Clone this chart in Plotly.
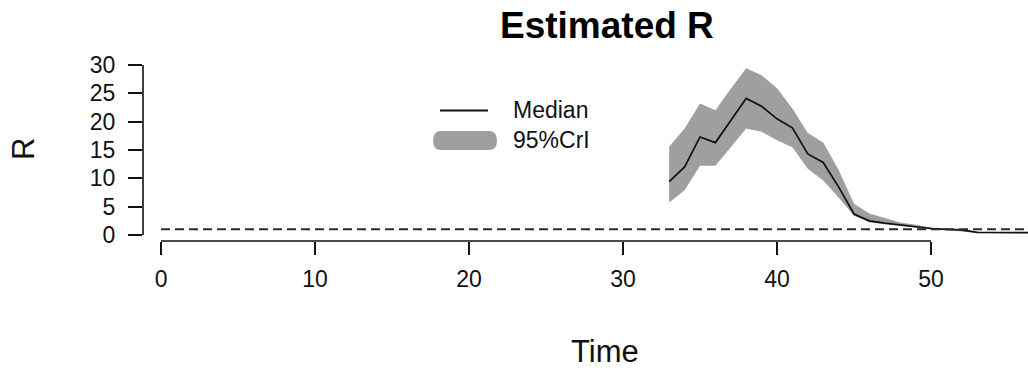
import plotly.graph_objects as go

# ---- data ----
time = list(range(33, 59))
median = [9.4, 12.0, 17.3, 16.3, 20.2, 24.1, 22.7, 20.5, 18.9, 14.3, 12.8, 8.5, 3.7, 2.5,
          2.1, 1.8, 1.5, 1.15, 1.0, 0.9, 0.45, 0.42, 0.4, 0.4, 0.4, 0.4]
upper = [15.6, 18.8, 23.2, 22.0, 25.8, 29.4, 28.2, 25.9, 22.3, 18.0, 16.3, 11.5, 5.5, 3.8,
         3.0, 2.2, 1.8, 1.3, 1.05, 0.8, 0.55, 0.52, 0.5, 0.5, 0.5, 0.5]
lower = [5.75, 7.9, 12.2, 12.2, 15.5, 18.8, 18.2, 16.7, 15.5, 11.7, 9.6, 6.6, 3.4, 2.2,
         1.9, 1.6, 1.3, 1.0, 0.85, 0.6, 0.35, 0.33, 0.3, 0.3, 0.3, 0.3]
x_ticks = [0, 10, 20, 30, 40, 50]
y_ticks = [0, 5, 10, 15, 20, 25, 30]
ref_level = 1
title_text = "Estimated R"
x_title = "Time"
y_title = "R"
legend_labels = ["Median", "95%CrI"]

# ---- layout geometry (pixels) ----
FW, FH = 1028, 371
L, T = 143, 58
R_, B = 0, 130
PW, PH = FW - L - R_, FH - T - B
x_range = [-1.17, 56.3]
y_range = [-1.06, 31.23]

BAND = "#9f9f9f"
INK = "#111111"
FONT = "Liberation Sans, Arial, sans-serif"


def px(xp):
    return (xp - L) / PW


def py(yp):
    return 1 - (yp - T) / PH


fig = go.Figure()
fig.add_trace(go.Scatter(x=time, y=upper, mode="lines", line=dict(width=0, color=BAND),
                         showlegend=False, hoverinfo="skip"))
fig.add_trace(go.Scatter(x=time, y=lower, mode="lines", line=dict(width=0, color=BAND),
                         fill="tonexty", fillcolor=BAND, showlegend=False, hoverinfo="skip"))
fig.add_trace(go.Scatter(x=time, y=median, mode="lines", line=dict(width=1.7, color="#111111"),
                         showlegend=False))

shapes = []
# reference line at R = 1
shapes.append(dict(type="line", xref="x", yref="y", x0=x_ticks[0], x1=x_range[1],
                   y0=ref_level, y1=ref_level, line=dict(color="#2a2a2a", width=2, dash="9px,5px")))
# detached axis lines (R style)
shapes.append(dict(type="line", xref="paper", yref="y", x0=0, x1=0,
                   y0=min(y_ticks), y1=max(y_ticks), line=dict(color=INK, width=1.6)))
shapes.append(dict(type="line", xref="x", yref="paper", x0=min(x_ticks), x1=max(x_ticks),
                   y0=0, y1=0, line=dict(color=INK, width=1.6)))
# legend symbols
shapes.append(dict(type="line", xref="paper", yref="paper", x0=px(440), x1=px(488),
                   y0=py(110.5), y1=py(110.5), line=dict(color=INK, width=2)))
x0, x1, y0, y1, r = 433, 497, 131, 150, 8
path = (f"M {px(x0 + r)},{py(y0)} L {px(x1 - r)},{py(y0)} "
        f"Q {px(x1)},{py(y0)} {px(x1)},{py((y0 + y1) / 2)} "
        f"Q {px(x1)},{py(y1)} {px(x1 - r)},{py(y1)} "
        f"L {px(x0 + r)},{py(y1)} "
        f"Q {px(x0)},{py(y1)} {px(x0)},{py((y0 + y1) / 2)} "
        f"Q {px(x0)},{py(y0)} {px(x0 + r)},{py(y0)} Z")
shapes.append(dict(type="path", xref="paper", yref="paper", path=path,
                   fillcolor=BAND, line=dict(width=0)))

annotations = [
    dict(text=f"<b>{title_text}</b>", x=px(607), y=py(25), xref="paper", yref="paper",
         xanchor="center", yanchor="middle", showarrow=False,
         font=dict(family=FONT, size=37, color="#000000")),
    dict(text=x_title, x=px(605), y=py(351), xref="paper", yref="paper",
         xanchor="center", yanchor="middle", showarrow=False,
         font=dict(family=FONT, size=31, color=INK)),
    dict(text=y_title, x=px(23.5), y=py(149.5), xref="paper", yref="paper",
         xanchor="center", yanchor="middle", showarrow=False, textangle=-90,
         font=dict(family=FONT, size=31, color=INK)),
    dict(text=legend_labels[0], x=px(511), y=py(110), xref="paper", yref="paper",
         xanchor="left", yanchor="middle", showarrow=False,
         font=dict(family=FONT, size=23, color=INK)),
    dict(text=legend_labels[1], x=px(511), y=py(140), xref="paper", yref="paper",
         xanchor="left", yanchor="middle", showarrow=False,
         font=dict(family=FONT, size=23, color=INK)),
]

fig.update_layout(
    width=FW, height=FH,
    margin=dict(l=L, r=R_, t=T, b=B, pad=0),
    paper_bgcolor="white", plot_bgcolor="white",
    showlegend=False,
    shapes=shapes, annotations=annotations,
    font=dict(family=FONT, color=INK),
)
fig.update_xaxes(range=x_range, tickmode="array", tickvals=x_ticks,
                 ticktext=[str(v) for v in x_ticks],
                 showgrid=False, zeroline=False, showline=False,
                 ticks="outside", ticklen=13, tickwidth=1.6, tickcolor=INK,
                 ticklabelstandoff=4,
                 tickfont=dict(family=FONT, size=23, color=INK))
fig.update_yaxes(range=y_range, tickmode="array", tickvals=y_ticks,
                 ticktext=[str(v) for v in y_ticks],
                 showgrid=False, zeroline=False, showline=False,
                 ticks="outside", ticklen=14, tickwidth=1.6, tickcolor=INK,
                 ticklabelstandoff=8,
                 tickfont=dict(family=FONT, size=23, color=INK))

fig.write_html("out.html")
